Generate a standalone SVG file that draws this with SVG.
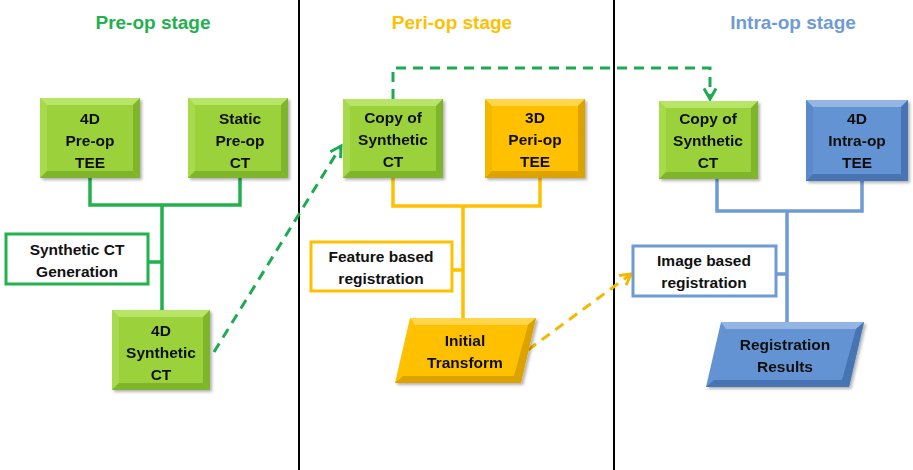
<svg xmlns="http://www.w3.org/2000/svg" width="913" height="470" viewBox="0 0 913 470">
<style>
text{font-family:"Liberation Sans",Arial,sans-serif;font-weight:bold;text-anchor:middle;fill:#111}
.t{font-size:15.5px}
.title{font-size:19px}
.div{stroke:#000;stroke-width:2}
.cg{fill:none;stroke:#22b14c;stroke-width:3.5}
.co{fill:none;stroke:#ffc000;stroke-width:3.5}
.cb{fill:none;stroke:#6f9bd4;stroke-width:3.5}
.dg{fill:none;stroke:#1eaa52;stroke-width:3;stroke-dasharray:10 7}
.do{fill:none;stroke:#f5b800;stroke-width:3;stroke-dasharray:10 7}
.lg{fill:#fff;stroke:#22b14c;stroke-width:3}
.lo{fill:#fff;stroke:#ffc000;stroke-width:3}
.lb{fill:#fff;stroke:#6f9bd4;stroke-width:3}
.gF{fill:#9bd23a}.gL{fill:#b8e468}.gD{fill:#7fb52a}.gM{fill:#a8db4c}
.oF{fill:#ffc000}.oL{fill:#ffd54a}.oD{fill:#dca200}.oM{fill:#f5b800}
.bF{fill:#6393d2}.bL{fill:#95b6e4}.bD{fill:#4674b4}.bM{fill:#5a8acb}
</style>
<defs>
<marker id="ag" viewBox="0 0 10 10" refX="8" refY="5" markerWidth="5" markerHeight="5" orient="auto" markerUnits="strokeWidth">
<path d="M1,1 L8,5 L1,9" fill="none" stroke="#1eaa52" stroke-width="2"/>
</marker>
<marker id="ao" viewBox="0 0 10 10" refX="8" refY="5" markerWidth="5" markerHeight="5" orient="auto" markerUnits="strokeWidth">
<path d="M1,1 L8,5 L1,9" fill="none" stroke="#f5b800" stroke-width="2"/>
</marker>
<filter id="sh" x="-10%" y="-10%" width="130%" height="130%">
<feDropShadow dx="2" dy="2" stdDeviation="1.5" flood-color="#000" flood-opacity="0.3"/>
</filter>
</defs>
<rect width="913" height="470" fill="#fff"/>
<g id="dividers">
<line class="div" x1="299" y1="0" x2="299" y2="470"/>
<line class="div" x1="614" y1="0" x2="614" y2="470"/>
</g>
<g id="titles">
<text class="title" x="153" y="29" style="fill:#22b14c">Pre-op stage</text>
<text class="title" x="452" y="29" style="fill:#ffc000">Peri-op stage</text>
<text class="title" x="793" y="29" style="fill:#6f9bd4">Intra-op stage</text>
</g>
<g id="connectors">
<path class="cg" d="M90,178 V205 H240 V178 M162,205 V310 M148,262 H162"/>
<path class="co" d="M393,178 V206 H540 V178 M463,206 V318 M452,270 H463"/>
<path class="cb" d="M717,179 V211 H862 V181 M787,211 V322 M776,274 H787"/>
<path class="dg" d="M214,352 L341,146" marker-end="url(#ag)"/>
<path class="dg" d="M393,99 V68 H710 V99" marker-end="url(#ag)"/>
<path class="do" d="M528,350 L631,274" marker-end="url(#ao)"/>
</g>
<g id="n-4d-preop-tee" filter="url(#sh)">
<rect class="gF" x="40" y="98" width="100" height="80"/>
<path class="gL" d="M40,98 H140 L133,105 H47 Z"/>
<path class="gM" d="M40,98 L47,105 V171 L40,178 Z"/>
<path class="gD" d="M40,178 L47,171 H133 L140,178 Z"/>
<path class="gD" d="M140,98 L133,105 V171 L140,178 Z"/>
<text class="t" x="90" y="124">4D</text><text class="t" x="90" y="146">Pre-op</text><text class="t" x="90" y="168">TEE</text>
</g>
<g id="n-static-preop-ct" filter="url(#sh)">
<rect class="gF" x="188" y="98" width="100" height="80"/>
<path class="gL" d="M188,98 H288 L281,105 H195 Z"/>
<path class="gM" d="M188,98 L195,105 V171 L188,178 Z"/>
<path class="gD" d="M188,178 L195,171 H281 L288,178 Z"/>
<path class="gD" d="M288,98 L281,105 V171 L288,178 Z"/>
<text class="t" x="240" y="124">Static</text><text class="t" x="240" y="146">Pre-op</text><text class="t" x="240" y="168">CT</text>
</g>
<g id="n-synthetic-ct-generation">
<rect class="lg" x="6" y="234" width="142" height="50"/>
<text class="t" x="77" y="255">Synthetic CT</text><text class="t" x="77" y="277">Generation</text>
</g>
<g id="n-4d-synthetic-ct" filter="url(#sh)">
<rect class="gF" x="112" y="310" width="98" height="80"/>
<path class="gL" d="M112,310 H210 L203,317 H119 Z"/>
<path class="gM" d="M112,310 L119,317 V383 L112,390 Z"/>
<path class="gD" d="M112,390 L119,383 H203 L210,390 Z"/>
<path class="gD" d="M210,310 L203,317 V383 L210,390 Z"/>
<text class="t" x="161" y="336">4D</text><text class="t" x="161" y="358">Synthetic</text><text class="t" x="161" y="380">CT</text>
</g>
<g id="n-copy-synthetic-ct-peri" filter="url(#sh)">
<rect class="gF" x="343" y="99" width="100" height="79"/>
<path class="gL" d="M343,99 H443 L436,106 H350 Z"/>
<path class="gM" d="M343,99 L350,106 V171 L343,178 Z"/>
<path class="gD" d="M343,178 L350,171 H436 L443,178 Z"/>
<path class="gD" d="M443,99 L436,106 V171 L443,178 Z"/>
<text class="t" x="393" y="123">Copy of</text><text class="t" x="393" y="145">Synthetic</text><text class="t" x="393" y="167">CT</text>
</g>
<g id="n-3d-periop-tee" filter="url(#sh)">
<rect class="oF" x="485" y="99" width="100" height="79"/>
<path class="oL" d="M485,99 H585 L578,106 H492 Z"/>
<path class="oM" d="M485,99 L492,106 V171 L485,178 Z"/>
<path class="oD" d="M485,178 L492,171 H578 L585,178 Z"/>
<path class="oD" d="M585,99 L578,106 V171 L585,178 Z"/>
<text class="t" x="535" y="123">3D</text><text class="t" x="535" y="145">Peri-op</text><text class="t" x="535" y="167">TEE</text>
</g>
<g id="n-feature-based-registration">
<rect class="lo" x="311" y="242" width="141" height="49"/>
<text class="t" x="381" y="262">Feature based</text><text class="t" x="381" y="284">registration</text>
</g>
<g id="n-initial-transform" filter="url(#sh)">
<path class="oF" d="M410,318 H536 L521,383 H395 Z"/>
<path class="oL" d="M410,318 H536 L528,325 H415 Z"/>
<path class="oD" d="M395,383 L403,376 H516 L521,383 Z"/>
<path class="oD" d="M536,318 L528,325 L514,376 L521,383 Z"/>
<text class="t" x="465" y="346">Initial</text><text class="t" x="465" y="368">Transform</text>
</g>
<g id="n-copy-synthetic-ct-intra" filter="url(#sh)">
<rect class="gF" x="659" y="101" width="99" height="78"/>
<path class="gL" d="M659,101 H758 L751,108 H666 Z"/>
<path class="gM" d="M659,101 L666,108 V172 L659,179 Z"/>
<path class="gD" d="M659,179 L666,172 H751 L758,179 Z"/>
<path class="gD" d="M758,101 L751,108 V172 L758,179 Z"/>
<text class="t" x="708" y="124">Copy of</text><text class="t" x="708" y="146">Synthetic</text><text class="t" x="708" y="168">CT</text>
</g>
<g id="n-4d-intraop-tee" filter="url(#sh)">
<rect class="bF" x="806" y="100" width="102" height="81"/>
<path class="bL" d="M806,100 H908 L901,107 H813 Z"/>
<path class="bM" d="M806,100 L813,107 V174 L806,181 Z"/>
<path class="bD" d="M806,181 L813,174 H901 L908,181 Z"/>
<path class="bD" d="M908,100 L901,107 V174 L908,181 Z"/>
<text class="t" x="857" y="124">4D</text><text class="t" x="857" y="146">Intra-op</text><text class="t" x="857" y="168">TEE</text>
</g>
<g id="n-image-based-registration">
<rect class="lb" x="633" y="246" width="143" height="50"/>
<text class="t" x="704" y="266">Image based</text><text class="t" x="704" y="288">registration</text>
</g>
<g id="n-registration-results" filter="url(#sh)">
<path class="bF" d="M721,322 H864 L849,387 H706 Z"/>
<path class="bL" d="M721,322 H864 L856,329 H726 Z"/>
<path class="bD" d="M706,387 L714,380 H844 L849,387 Z"/>
<path class="bD" d="M864,322 L856,329 L842,380 L849,387 Z"/>
<text class="t" x="785" y="350">Registration</text><text class="t" x="785" y="372">Results</text>
</g>
</svg>
